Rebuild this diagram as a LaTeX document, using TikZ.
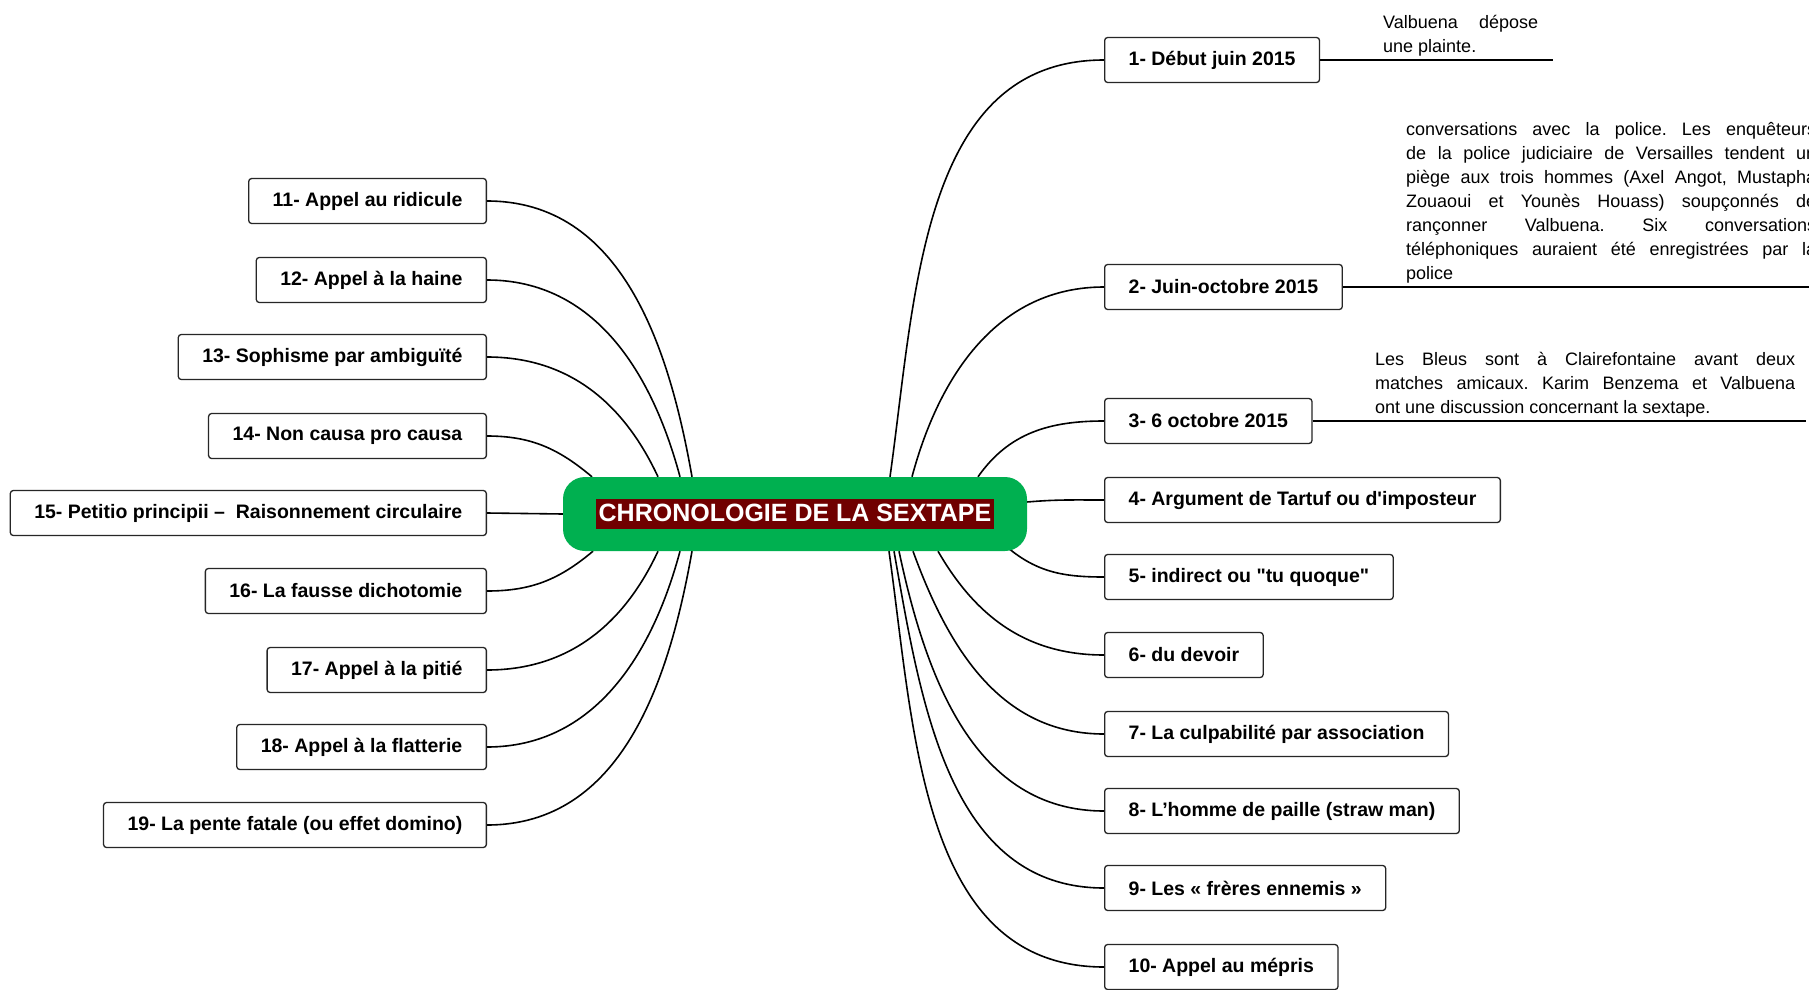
\documentclass[tikz,border=0pt]{standalone}
\usepackage{fontspec}
\setmainfont{Liberation Sans}[Ligatures=TeXOff]
\usetikzlibrary{backgrounds}
\definecolor{hubgreen}{RGB}{0,176,80}
\definecolor{hubred}{RGB}{112,0,0}
\frenchspacing

\begin{document}
\begin{tikzpicture}[x=1pt, y=1pt,
    box/.style={draw=black!85, line width=1.3pt, rounded corners=3pt, fill=white, minimum height=45pt, inner xsep=24pt, font=\fontsize{19.5}{23}\selectfont\bfseries},
    note/.style={inner xsep=0pt, inner ysep=4pt, align=left, anchor=south west, font=\fontsize{18}{24}\selectfont},
    link/.style={line width=1.6pt}]
    \useasboundingbox (0,0) rectangle (1809,-990);

    \node[fill=hubgreen, rounded corners=22pt, minimum width=464pt, minimum height=74pt] (hub) at (795,-514)
        {\fontsize{25}{28}\selectfont\bfseries\setlength{\fboxsep}{3pt}\colorbox{hubred}{\rule[-5pt]{0pt}{24pt}\color{white}CHRONOLOGIE DE LA SEXTAPE}};

    % right side
    \node[box, anchor=west] (r1) at (1104,-60) {1- Début juin 2015};
    \node[box, anchor=west] (r2) at (1104,-287) {2- Juin-octobre 2015};
    \node[box, anchor=west] (r3) at (1104,-421) {3- 6 octobre 2015};
    \node[box, anchor=west] (r4) at (1104,-500) {4- Argument de Tartuf ou d'imposteur};
    \node[box, anchor=west] (r5) at (1104,-577) {5- indirect ou "tu quoque"};
    \node[box, anchor=west] (r6) at (1104,-655) {6- du devoir};
    \node[box, anchor=west] (r7) at (1104,-734) {7- La culpabilité par association};
    \node[box, anchor=west] (r8) at (1104,-811) {8- L’homme de paille (straw man)};
    \node[box, anchor=west] (r9) at (1104,-888) {9- Les « frères ennemis »};
    \node[box, anchor=west] (r10) at (1104,-967) {10- Appel au mépris};

    % left side
    \node[box, anchor=east] (l11) at (487,-201) {11- Appel au ridicule};
    \node[box, anchor=east] (l12) at (487,-280) {12- Appel à la haine};
    \node[box, anchor=east] (l13) at (487,-357) {13- Sophisme par ambiguïté};
    \node[box, anchor=east] (l14) at (487,-436) {14- Non causa pro causa};
    \node[box, anchor=east] (l15) at (487,-513) {15- Petitio principii –\ \ Raisonnement circulaire};
    \node[box, anchor=east] (l16) at (487,-591) {16- La fausse dichotomie};
    \node[box, anchor=east] (l17) at (487,-670) {17- Appel à la pitié};
    \node[box, anchor=east] (l18) at (487,-747) {18- Appel à la flatterie};
    \node[box, anchor=east] (l19) at (487,-825) {19- La pente fatale (ou effet domino)};

    % notes
    \coordinate (e1) at (1553,-60);
    \coordinate (e2) at (1815,-287);
    \coordinate (e3) at (1806,-421);
    \node[note] (n1) at (1383,-60) {\makebox[155pt][s]{Valbuena dépose}\\une plainte.};
    \node[note] (n2) at (1406,-287) {\makebox[410pt][s]{conversations avec la police. Les enquêteurs}\\
        \makebox[410pt][s]{de la police judiciaire de Versailles tendent un}\\
        \makebox[410pt][s]{piège aux trois hommes (Axel Angot, Mustapha}\\
        \makebox[410pt][s]{Zouaoui et Younès Houass) soupçonnés de}\\
        \makebox[410pt][s]{rançonner Valbuena. Six conversations}\\
        \makebox[410pt][s]{téléphoniques auraient été enregistrées par la}\\
        police};
    \node[note] (n3) at (1375,-421) {\makebox[420pt][s]{Les Bleus sont à Clairefontaine avant deux}\\
        \makebox[420pt][s]{matches amicaux. Karim Benzema et Valbuena}\\
        ont une discussion concernant la sextape.};

    \begin{scope}[on background layer]
    \fill[white] (0,0) rectangle (1809,-990);
    \draw[link] (r1.east) -- (e1);
    \draw[link] (r2.east) -- (e2);
    \draw[link] (r3.east) -- (e3);
    \draw[link] ([xshift=95pt]hub.north) to[out=82, in=180] (r1.west);
    \draw[link] ([xshift=117pt]hub.north) to[out=75, in=180] (r2.west);
    \draw[link] ([xshift=183pt]hub.north) to[out=55, in=180] (r3.west);
    \draw[link] ([yshift=12pt]hub.east) to[out=5, in=180] (r4.west);
    \draw[link] ([xshift=-20pt,yshift=4pt]hub.south east) to[out=-40, in=180] (r5.west);
    \draw[link] ([xshift=143pt]hub.south) to[out=-60, in=180] (r6.west);
    \draw[link] ([xshift=118pt]hub.south) to[out=-70, in=180] (r7.west);
    \draw[link] ([xshift=104pt]hub.south) to[out=-78, in=180] (r8.west);
    \draw[link] ([xshift=99pt]hub.south) to[out=-80, in=180] (r9.west);
    \draw[link] ([xshift=94pt]hub.south) to[out=-82, in=180] (r10.west);
    \draw[link] ([xshift=-103pt]hub.north) to[out=100, in=0] (l11.east);
    \draw[link] ([xshift=-115pt]hub.north) to[out=105, in=0] (l12.east);
    \draw[link] ([xshift=-137pt]hub.north) to[out=115, in=0] (l13.east);
    \draw[link] ([xshift=-203pt]hub.north) to[out=140, in=0] (l14.east);
    \draw[link] (hub.west) -- (l15.east);
    \draw[link] ([xshift=-202pt]hub.south) to[out=-140, in=0] (l16.east);
    \draw[link] ([xshift=-137pt]hub.south) to[out=-115, in=0] (l17.east);
    \draw[link] ([xshift=-115pt]hub.south) to[out=-105, in=0] (l18.east);
    \draw[link] ([xshift=-103pt]hub.south) to[out=-100, in=0] (l19.east);
    \end{scope}
\end{tikzpicture}
\end{document}
